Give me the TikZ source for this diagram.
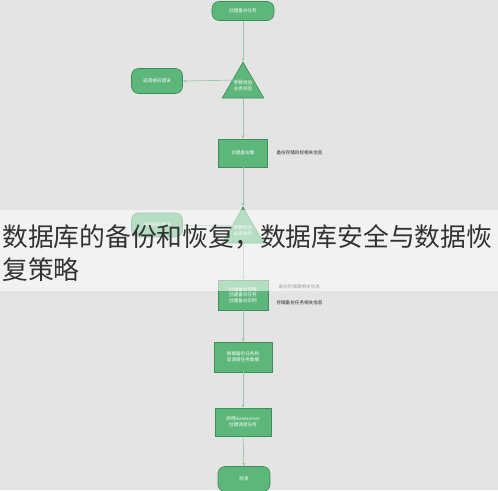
\documentclass[tikz,border=0pt]{standalone}
\usepackage{fontspec}
\newfontfamily\cjk{Noto Sans CJK SC}
\usetikzlibrary{arrows.meta,shapes.geometric}
\definecolor{bg}{HTML}{E4E4E4}
\definecolor{gfill}{HTML}{5DB67A}
\definecolor{gdraw}{HTML}{3E8E58}
\definecolor{gline}{HTML}{9CC5A9}
\tikzset{
  x=1pt,y=-1pt,
  every node/.style={font=\cjk\fontsize{4.6}{5.6}\selectfont},
  term/.style={draw=gdraw,fill=gfill,rounded corners=7pt,text=white,minimum width=#1,minimum height=19pt,line width=0.6pt,inner sep=1pt,align=center},
  proc/.style={draw=gdraw,fill=gfill,text=white,minimum width=#1,minimum height=28pt,line width=0.6pt,inner sep=1pt,align=center},
  tri/.style={draw=gdraw,fill=gfill,text=white,isosceles triangle,isosceles triangle apex angle=60,shape border rotate=90,minimum height=36pt,inner sep=0pt,line width=0.6pt},
  conn/.style={draw=gline,line width=0.7pt,-{Stealth[length=3.5pt,width=3pt]}},
  lbl/.style={anchor=west,text=black!85},
}
\begin{document}
\begin{tikzpicture}
\fill[bg] (0,0) rectangle (498,490);
\useasboundingbox (0,0) rectangle (498,490);
% nodes
\node[term=62pt] (start) at (243,11) {创建备份任务};
\node[tri] (chk1) at (243,86) {};
\node[text=white,align=center] (chk1t) at (243,86) {参数校验\\业务校验};
\node[term=51pt,minimum height=25pt] (err1) at (157,81) {返回相应错误};
\node[proc=49pt] (set) at (243,153) {创建备份集};
\node[lbl] (l1) at (273,153) {备份存储目标相关信息};
\node[tri] (chk2) at (243,231) {};
\node[text=white,align=center] (chk2t) at (243,231) {参数校验\\业务校验};
\node[term=51pt,minimum height=24pt] (err2) at (157,225) {返回相应错误};
\node[proc=50pt,minimum height=30pt] (task) at (243,295) {创建备份存储\\创建备份任务\\创建备份实例};
\node[lbl] (l2) at (275,287) {备份存储源相关信息};
\node[lbl] (l3) at (273,303) {存储备份任务相关信息};
\node[proc=58pt,minimum height=30pt] (build) at (243,357) {根据备份任务构\\造调度任务数据};
\node[proc=56pt] (call) at (243,422) {调用leaseserver\\创建调度任务};
\node[term=52pt,minimum height=25pt] (end) at (244,479) {结束};
% connectors
\draw[conn] (start) -- (chk1.apex);
\draw[conn] (243,80) coordinate (c1) -- (err1.east);
\draw[conn] (chk1.south) -- (set);
\draw[conn] (set) -- (chk2.apex);
\draw[conn] (243,225) coordinate (c2) -- (err2.east);
\draw[conn] (chk2.south) -- (task);
\draw[conn] (task) -- (build);
\draw[conn] (build) -- (call);
\draw[conn] (call) -- (end);
% overlay band
\fill[white,opacity=0.55] (0,210) rectangle (498,291);
\node[anchor=west,inner sep=0pt,font=\cjk\fontsize{25.8}{33}\selectfont,text=black!80] (t1) at (2,237) {数据库的备份和恢复，数据库安全与数据恢};
\node[anchor=west,inner sep=0pt,font=\cjk\fontsize{25.8}{33}\selectfont,text=black!80] (t2) at (2,270) {复策略};
\end{tikzpicture}
\end{document}
